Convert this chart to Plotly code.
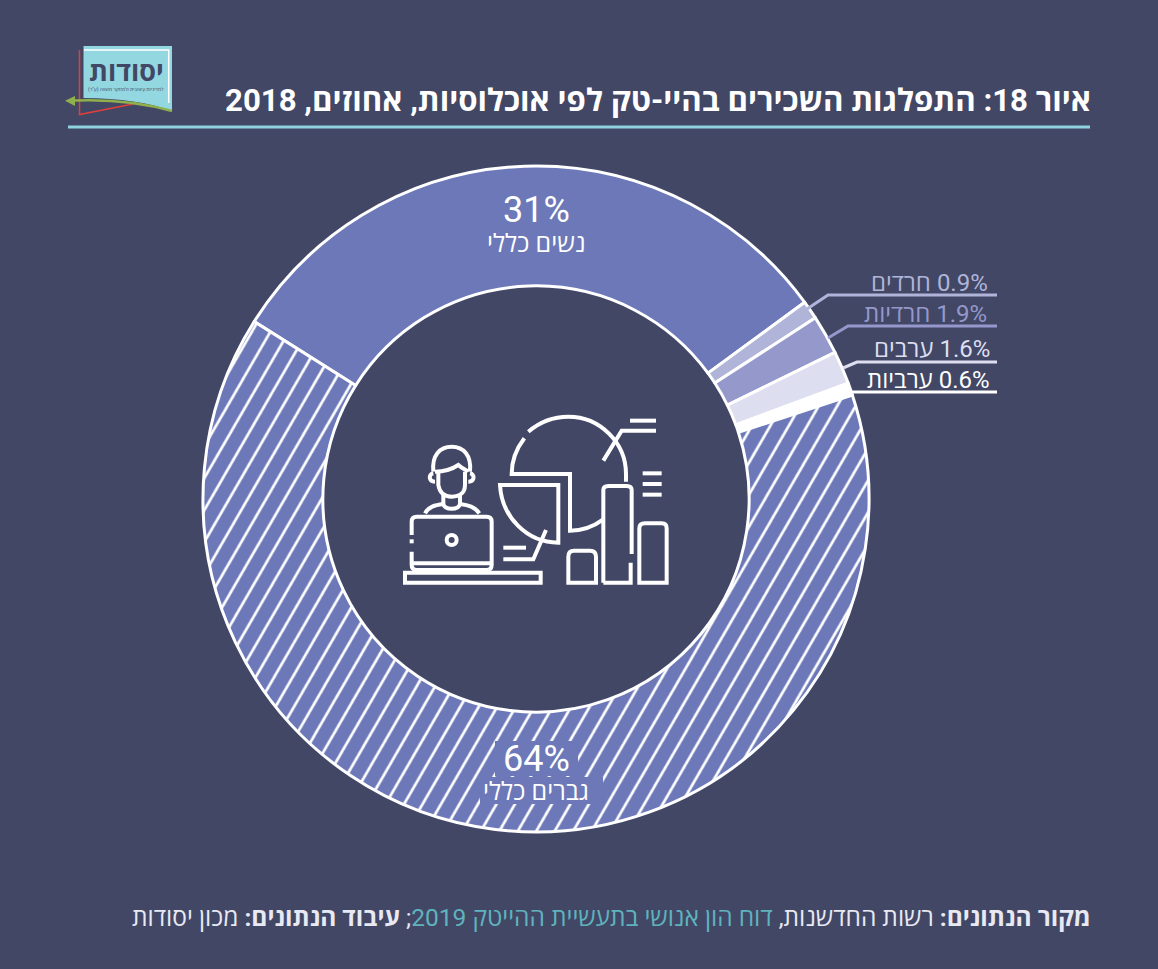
import re
import plotly.graph_objects as go

W, H = 1158, 969
BG = "#424766"
FONT = 'Roboto, "Open Sans", "Liberation Sans", sans-serif'

groups = ["נשים כללי", "חרדים", "חרדיות", "ערבים", "ערביות", "גברים כללי"]
shares = [31, 0.9, 1.9, 1.6, 0.6, 64]
slice_colors = ["#6c78b8", "#b0b4d8", "#9598cb", "#dddff0", "#ffffff", "#6c78b8"]
slice_patterns = ["", "", "", "", "", "/"]


def px(x, y):
    return x / W, 1 - y / H


def path(d, ox=0, oy=0, k=1):
    # pixel coordinates -> paper coordinates, x and y alternate
    nums = iter(range(10000))

    def conv(m):
        v = float(m.group())
        if next(nums) % 2 == 0:
            return f"{(v * k + ox) / W:.5f}"
        return f"{1 - (v * k + oy) / H:.5f}"

    return re.sub(r"-?\d+\.?\d*", conv, d)


def line(d, color="white", width=4, fill=None, ox=0, oy=0, k=1):
    return dict(type="path", xref="paper", yref="paper", path=path(d, ox, oy, k),
                line=dict(color=color, width=width), fillcolor=fill or "rgba(0,0,0,0)")


def text(x, y, s, size, color="white", anchor="center", **kw):
    ax, ay = px(x, y)
    return dict(x=ax, y=ay, xref="paper", yref="paper", text=s, showarrow=False,
                xanchor=anchor, yanchor="middle", font=dict(size=size, color=color, family=FONT), **kw)


fig = go.Figure(go.Pie(
    labels=groups, values=shares, sort=False, direction="clockwise", rotation=-57.8,
    hole=0.64, textinfo="none", hoverinfo="none", showlegend=False,
    domain=dict(x=[203 / W, 869 / W], y=[1 - 832 / H, 1 - 166 / H]),
    marker=dict(colors=slice_colors, line=dict(color="white", width=3),
                pattern=dict(shape=slice_patterns, fgcolor="white", bgcolor="#6c78b8",
                             size=16, solidity=0.17, fillmode="replace")),
))

shapes = [line("M 68 127 L 1090 127", "#8fd3df", 3)]

# plain patches behind the 64% label
shapes += [
    line("M 495 741 L 578 741 L 578 776 L 495 776 Z", slice_colors[5], 0, slice_colors[5]),
    line("M 480 777 L 603 777 L 603 804 L 480 804 Z", slice_colors[5], 0, slice_colors[5]),
]

# leader lines
shapes += [
    line("M 807 309 L 828 295 L 997 295", slice_colors[1], 3),
    line("M 828 338 L 848 326 L 997 326", slice_colors[2], 3),
    line("M 843 368 L 857 362 L 997 362", slice_colors[3], 3),
    line("M 852 392 L 997 392", slice_colors[4], 3),
]

# logo
shapes += [
    line("M 79.5 50 L 79.5 114.5 L 133 104", "#e0403a", 1.5),
    line("M 83.5 46 L 172 46 L 172 111 C 150 103 120 98 83.5 98 Z", "#93d7e0", 0, "#93d7e0"),
    line("M 84 50 L 168.7 50 L 168.7 103", "white", 1.5),
    line("M 74 100.5 C 110 99 140 102 172 111", "#8fb04a", 2.5),
    line("M 65 100.7 L 75 96 L 75 106 Z", "#8fb04a", 0, "#8fb04a"),
]

# icon, traced in 3x crop coordinates
icon = [
    "M 130 215 C 125 165 150 140 185 140 C 220 140 245 165 240 215",
    "M 135 215 C 165 215 190 205 205 195 C 215 205 230 210 235 215",
    "M 145 215 L 145 255 C 150 285 170 290 185 290 C 200 290 225 285 225 255 L 225 215",
    "M 130 220 C 115 222 115 245 135 245",
    "M 240 220 C 255 222 255 245 235 245",
    "M 160 285 L 160 310 C 160 332 210 332 210 310 L 210 285",
    "M 105 340 C 115 320 135 315 160 312",
    "M 210 312 C 235 315 255 320 268 340",
    "M 65 405 L 65 365 Q 65 350 80 350 L 290 350 Q 305 350 305 365 L 305 495 Q 305 510 290 510 L 80 510 Q 65 510 65 495 L 65 455",
    "M 65 418 L 65 430",
    "M 65 490 L 305 490",
    "M 170 420 C 170 400 200 400 200 420 C 200 440 170 440 170 420 Z",
    "M 45 518 L 452 518 L 452 548 L 45 548 Z",
    "M 415 95 C 450 65 490 50 535 50 C 630 50 708 128 708 222 L 708 245",
    "M 403 115 C 380 145 365 180 365 222 L 540 222 L 540 392 C 575 392 610 380 640 358",
    "M 330 255 L 505 255 L 505 428 C 410 428 335 350 330 255 Z",
    "M 640 182 L 695 92 L 798 92",
    "M 720 62 L 798 62",
    "M 468 390 L 430 478 L 340 478",
    "M 340 443 L 408 443",
    "M 758 220 L 815 220",
    "M 758 252 L 815 252",
    "M 758 284 L 815 284",
    "M 640 548 L 640 270 Q 640 258 655 258 L 710 258 Q 725 258 725 270 L 725 462",
    "M 722 488 L 722 548 L 640 548",
    "M 535 548 L 535 470 Q 535 452 552 452 L 600 452 Q 618 452 618 470 L 618 548 Z",
    "M 748 548 L 748 385 Q 748 370 765 370 L 815 370 Q 830 370 830 385 L 830 548 Z",
]
shapes += [line(d, "white", 4, ox=390, oy=400, k=1 / 3) for d in icon]

label_pos = [(990, 283), (989, 314), (992, 349), (992, 380)]
annotations = [
    text(1092.5, 100, "<b>איור 18: התפלגות השכירים בהיי-טק לפי אוכלוסיות, אחוזים, 2018</b>", 31.2, anchor="right"),
    text(1092.5, 917,
         '<b>מקור הנתונים:</b> רשות החדשנות, <span style="color:#5fb3bd">דוח הון אנושי בתעשיית ההייטק 2019</span>;'
         ' <b>עיבוד הנתונים:</b> מכון יסודות', 24.5, "#e8e9f2", anchor="right"),
    text(126, 72, "<b>יסודות</b>", 27, BG),
    text(126, 90, 'למדיניות עיצובית ולמחקר משווה (ע"ר)', 5, BG),
    text(536, 210, f"{shares[0]}%", 36),
    text(536, 243, groups[0], 25),
    text(536, 759, f"{shares[5]}%", 36),
    text(536, 791, groups[5], 25),
]
for i, (x, y) in enumerate(label_pos):
    annotations.append(text(x, y, f"\u200f{shares[i + 1]}% {groups[i + 1]}", 24, slice_colors[i + 1], anchor="right"))

fig.update_layout(
    width=W, height=H, margin=dict(l=0, r=0, t=0, b=0),
    paper_bgcolor=BG, plot_bgcolor=BG,
    font=dict(family=FONT, color="white"),
    shapes=shapes, annotations=annotations,
)

# no page margin; hatch in the reference is steeper than the 45 degrees plotly draws
post = ("document.body.style.margin = '0';"
        "document.querySelectorAll('pattern').forEach(p => p.setAttribute('patternTransform', 'rotate(-15)'));")
fig.write_html("out.html", post_script=post, config=dict(displayModeBar=False))
